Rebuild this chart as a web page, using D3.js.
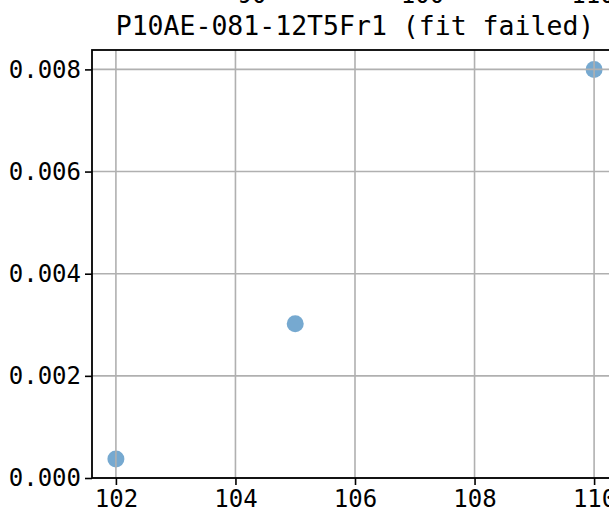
<!DOCTYPE html>
<html>
<head>
<meta charset="utf-8">
<script src="https://cdn.jsdelivr.net/npm/d3@7"></script>
<style>
  html, body { margin: 0; padding: 0; background: #fff; overflow: hidden; }
  svg { display: block; }
</style>
</head>
<body>
<svg id="chart" width="609" height="519"></svg>
<script>
// ---- data ----
const title = "P10AE-081-12T5Fr1 (fit failed)";
const xValues = [102, 105, 110];
const yValues = [0.00037, 0.00302, 0.008];
const xTicks = [102, 104, 106, 108, 110];
const yTicks = [0, 0.002, 0.004, 0.006, 0.008];
// partially visible tick labels of the panel above (cut off at the top)
const upperTicks = [90, 100, 110];

const W = 609, H = 519;
const margin = { left: 92, top: 50, right: 618, bottom: 478 };
const monoFont = "'DejaVu Sans Mono', 'Liberation Mono', monospace";

const svg = d3.select("#chart");

const x = d3.scaleLinear().domain([101.6, 110.4]).range([margin.left, margin.right]);
const y = d3.scaleLinear().domain([0, 0.00838]).range([margin.bottom, margin.top]);

// upper panel's cut-off tick labels
const xUp = d3.scaleLinear().domain([90, 110]).range([252, 593]);
svg.append("g").selectAll("text").data(upperTicks).join("text")
  .attr("x", d => xUp(d)).attr("y", 3)
  .attr("text-anchor", "middle")
  .attr("font-family", monoFont).attr("font-size", 24).attr("fill", "#000")
  .text(d => d);

// points (drawn below grid)
svg.append("g").selectAll("circle").data(xValues.map((d, i) => [d, yValues[i]])).join("circle")
  .attr("cx", d => x(d[0])).attr("cy", d => y(d[1])).attr("r", 8.5)
  .attr("fill", "#76a9d0");

// grid
const grid = svg.append("g").attr("stroke", "#b0b0b0").attr("stroke-width", 1.6);
grid.selectAll("line.vx").data(xTicks).join("line")
  .attr("x1", d => x(d)).attr("x2", d => x(d))
  .attr("y1", margin.top).attr("y2", margin.bottom);
grid.selectAll("line.hy").data(yTicks).join("line")
  .attr("y1", d => y(d)).attr("y2", d => y(d))
  .attr("x1", margin.left).attr("x2", margin.right);

// axes
const xAxis = d3.axisBottom(x).tickValues(xTicks).tickSize(7).tickPadding(5).tickFormat(d3.format("d"));
const yAxis = d3.axisLeft(y).tickValues(yTicks).tickSize(7).tickPadding(4).tickFormat(d3.format(".3f"));

const gx = svg.append("g").attr("transform", `translate(0,${margin.bottom})`).call(xAxis);
const gy = svg.append("g").attr("transform", `translate(${margin.left},0)`).call(yAxis);
[gx, gy].forEach(g => {
  g.select(".domain").remove();
  g.selectAll(".tick line").attr("stroke", "#000").attr("stroke-width", 1.6);
  g.selectAll(".tick text").attr("font-family", monoFont).attr("font-size", 24).attr("fill", "#000");
});

// spines
svg.append("rect")
  .attr("x", margin.left).attr("y", margin.top)
  .attr("width", margin.right - margin.left).attr("height", margin.bottom - margin.top)
  .attr("fill", "none").attr("stroke", "#000").attr("stroke-width", 1.8);

// title
svg.append("text")
  .attr("x", (margin.left + margin.right) / 2).attr("y", 35)
  .attr("text-anchor", "middle")
  .attr("font-family", monoFont).attr("font-size", 26.5).attr("fill", "#000")
  .text(title);
</script>
</body>
</html>
